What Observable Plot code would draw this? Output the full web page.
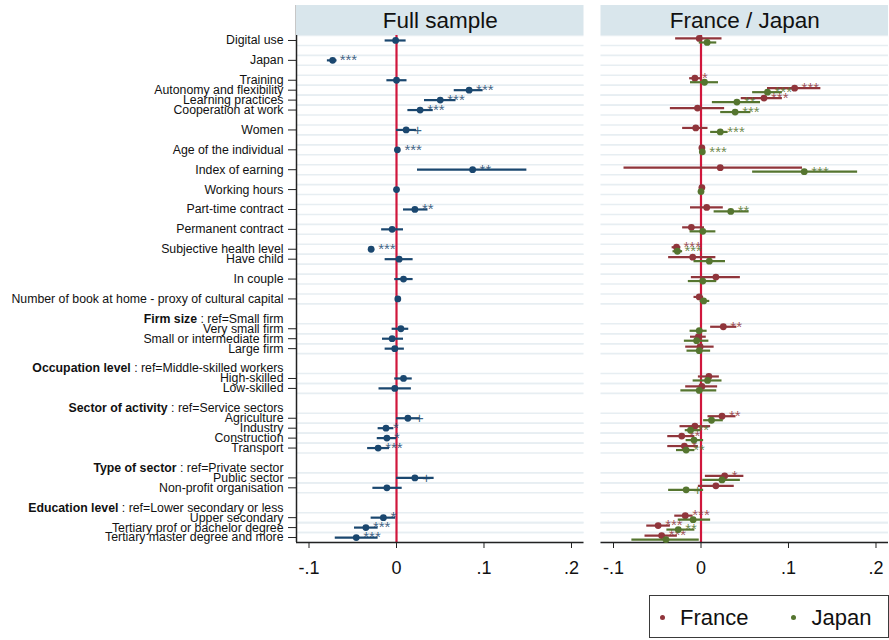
<!DOCTYPE html>
<html><head><meta charset="utf-8">
<script src="https://cdn.jsdelivr.net/npm/d3@7"></script>
<script src="https://cdn.jsdelivr.net/npm/@observablehq/plot@0.6"></script>
<style>
html,body{margin:0;padding:0;background:#fff;}
body{font-family:"Liberation Sans",Arial,sans-serif;}
#wrap{position:relative;width:889px;height:640px;overflow:hidden;}
#legend{position:absolute;left:649px;top:595px;width:240px;height:43px;border:1px solid #3a3a3a;box-sizing:border-box;display:flex;align-items:center;font-size:22px;color:#111;padding-top:2px;}
#legend .item{display:flex;align-items:center;}
#legend .sw{width:5px;height:5px;border-radius:50%;display:inline-block;margin-right:15px;}
</style></head>
<body><div id="wrap"><div id="chart"></div><div id="legend"></div></div>
<script>
// ---------- data ----------
const panels = ["Full sample", "France / Japan"];
const seriesNames = ["France", "Japan"];

const coefNames = ["Digital use","Japan","Training","Autonomy and flexibility","Learning practices","Cooperation at work","Women","Age of the individual","Index of earning","Working hours","Part-time contract","Permanent contract","Subjective health level","Have child","In couple","Number of book at home - proxy of cultural capital","Very small firm","Small or intermediate firm","Large firm","High-skilled","Low-skilled","Agriculture","Industry","Construction","Transport","Public sector","Non-profit organisation","Upper secondary","Tertiary prof or bachelor degree","Tertiary master degree and more"];

const headerNames = ["Firm size","Occupation level","Sector of activity","Type of sector","Education level"];
const headerRefs = ["ref=Small firm","ref=Middle-skilled workers","ref=Service sectors","ref=Private sector","ref=Lower secondary or less"];

// vertical order of rows (null = empty row)
const rowOrder = ["Digital use",null,"Japan",null,"Training","Autonomy and flexibility","Learning practices","Cooperation at work",null,"Women",null,"Age of the individual",null,"Index of earning",null,"Working hours",null,"Part-time contract",null,"Permanent contract",null,"Subjective health level","Have child",null,"In couple",null,"Number of book at home - proxy of cultural capital",null,"Firm size","Very small firm","Small or intermediate firm","Large firm",null,"Occupation level","High-skilled","Low-skilled",null,"Sector of activity","Agriculture","Industry","Construction","Transport",null,"Type of sector","Public sector","Non-profit organisation",null,"Education level","Upper secondary","Tertiary prof or bachelor degree","Tertiary master degree and more"];

// Full sample
const fullEst = [-0.001,-0.073,0.000,0.083,0.050,0.027,0.011,0.001,0.087,0.000,0.021,-0.005,-0.029,0.003,0.008,0.0015,0.005,-0.005,-0.002,0.008,-0.002,0.013,-0.012,-0.011,-0.021,0.021,-0.011,-0.015,-0.035,-0.046];
const fullLo  = [-0.013,-0.079,-0.011,0.066,0.032,0.013,0.000,0.000,0.024,-0.0005,0.008,-0.017,-0.032,-0.013,-0.002,-0.001,-0.005,-0.016,-0.013,-0.002,-0.020,0.000,-0.021,-0.022,-0.033,0.000,-0.027,-0.029,-0.048,-0.070];
const fullHi  = [0.011,-0.068,0.012,0.099,0.068,0.042,0.023,0.0015,0.149,0.0005,0.036,0.008,-0.025,0.019,0.019,0.004,0.014,0.008,0.009,0.018,0.017,0.027,-0.003,0.000,-0.008,0.043,0.0065,-0.001,-0.021,-0.021];
const fullSig = ["","***","","***","***","***","+","***","**","","**","","***","","","","","","","","","+","*","*","***","+","","*","***","***"];

// France
const frEst = [-0.002,null,-0.007,0.107,0.072,-0.004,-0.006,0.001,0.022,0.001,0.0065,-0.011,-0.028,-0.0095,0.017,-0.002,0.0255,-0.003,-0.001,0.009,0.001,0.024,-0.007,-0.022,-0.019,0.027,0.017,-0.018,-0.049,-0.045];
const frLo  = [-0.029,null,-0.013,0.076,0.046,-0.035,-0.021,0.000,-0.088,0.000,-0.012,-0.021,-0.033,-0.037,-0.011,-0.008,0.011,-0.012,-0.0175,-0.003,-0.0175,0.008,-0.024,-0.038,-0.038,0.005,-0.003,-0.030,-0.062,-0.064];
const frHi  = [0.024,null,0.000,0.137,0.093,0.027,0.008,0.002,0.116,0.002,0.0255,0.004,-0.023,0.017,0.045,0.003,0.041,0.006,0.015,0.021,0.019,0.040,0.011,-0.007,-0.003,0.049,0.038,-0.009,-0.035,-0.027];
const frSig = ["",null,"*","***","***","","","","","","","","***","","","","**","","","","","**","","**","*","*","","***","***","***"];

// Japan
const jpEst = [0.007,null,0.004,0.076,0.041,0.039,0.022,0.0015,0.118,0.000,0.034,0.002,-0.027,0.0095,0.002,0.003,-0.002,-0.005,-0.002,0.0075,-0.002,0.012,-0.012,-0.008,-0.017,0.024,-0.017,-0.009,-0.026,-0.040];
const jpLo  = [-0.002,null,-0.012,0.059,0.013,0.0225,0.011,0.0005,0.059,-0.001,0.015,-0.0125,-0.032,-0.008,-0.0145,-0.001,-0.0125,-0.019,-0.016,-0.009,-0.023,0.003,-0.018,-0.017,-0.028,0.002,-0.037,-0.026,-0.039,-0.079];
const jpHi  = [0.018,null,0.020,0.093,0.068,0.057,0.031,0.0025,0.179,0.001,0.055,0.017,-0.021,0.028,0.018,0.010,0.007,0.009,0.011,0.024,0.018,0.0255,0.000,0.003,-0.007,0.045,0.003,0.011,-0.007,-0.002];
const jpSig = ["",null,"","***","**","***","***","***","***","","**","","***","","","","","","","","","","**","","**","","+","","**",""];

const xTicks = [-0.1, 0, 0.1, 0.2];
const xTickLabels = ["-.1", "0", ".1", ".2"];

// ---------- styles ----------
const navy = "#1a476f", maroon = "#90353b", green = "#55752f";
const zeroRed = "#d0173c", gridCol = "#e7eef2", stripFill = "#d9e6ec", axisCol = "#222";
const fontFam = "'Liberation Sans', Arial, Helvetica, sans-serif";

// ---------- build tables ----------
const rowIds = rowOrder.map((d, i) => d ?? `gap${i}`);
function build(panel, est, lo, hi, sig) {
  return coefNames.map((id, i) => ({panel, id, est: est[i], lo: lo[i], hi: hi[i], sig: sig[i]}))
    .filter(d => d.est != null);
}
const fullRows = build(panels[0], fullEst, fullLo, fullHi, fullSig);
const frRows = build(panels[1], frEst, frLo, frHi, frSig);
const jpRows = build(panels[1], jpEst, jpLo, jpHi, jpSig);
const gridRows = panels.flatMap(p => coefNames.map(id => ({panel: p, id})));

const W = 889, H = 590, mTop = 5, mBottom = 48, mLeft = 296, mRight = 1;
const stripH = 30;
const frameH = H - mTop - mBottom;
const step = (frameH - stripH) / rowIds.length;
const xDom = [-0.1143, 0.2143];
const off = 2;

function seriesMarks(rows, color, dy) {
  return [
    Plot.ruleY(rows, {fx: "panel", y: "id", x1: "lo", x2: "hi", stroke: color, strokeWidth: 2.2, dy}),
    Plot.dot(rows, {fx: "panel", y: "id", x: "est", r: 3.4, fill: color, stroke: "none", dy}),
    Plot.text(rows.filter(d => d.sig), {fx: "panel", y: "id", x: "est", text: "sig", dx: 7, dy, textAnchor: "start", lineAnchor: "middle", fill: color, fontSize: 15, fillOpacity: 0.85})
  ];
}

const chart = Plot.plot({
  width: W, height: H,
  marginLeft: mLeft, marginRight: mRight, marginTop: mTop, marginBottom: mBottom,
  style: {fontFamily: fontFam, fontSize: "12px", background: "white", color: "#111"},
  fx: {domain: panels, paddingInner: 17 / 304.5, paddingOuter: 0, axis: null, round: false},
  x: {domain: xDom, axis: null},
  y: {type: "point", domain: rowIds, padding: 0.5, insetTop: stripH, axis: null, round: false},
  marks: [
    Plot.ruleY(gridRows, {fx: "panel", y: "id", dy: -step / 2, stroke: gridCol, strokeWidth: 1.6}),
    Plot.ruleY(gridRows, {fx: "panel", y: "id", dy: step / 2, stroke: gridCol, strokeWidth: 1.6}),
    Plot.ruleX([0], {stroke: zeroRed, strokeWidth: 2.2}),
    Plot.ruleX([panels[0]], {fx: d => d, x: () => xDom[0], stroke: axisCol, strokeWidth: 1.5}),
    Plot.ruleY([rowIds[rowIds.length - 1]], {dy: step / 2, stroke: axisCol, strokeWidth: 1.5}),
    Plot.rect(panels, {fx: d => d, x1: () => xDom[0], x2: () => xDom[1], fill: stripFill, insetBottom: frameH - stripH}),
    Plot.text(panels, {fx: d => d, text: d => d, frameAnchor: "top", lineAnchor: "middle", dy: stripH / 2, fontSize: 22.5, fill: "#111"}),
    Plot.axisX({ticks: xTicks, tickFormat: d => xTickLabels[xTicks.indexOf(d)], tickSize: 6, tickPadding: 13, fontSize: 18, stroke: axisCol, label: null}),
    Plot.axisY(coefNames, {tickFormat: d => d, tickSize: 8, tickPadding: 5, fontSize: 12.3, stroke: axisCol, label: null}),
    Plot.text(headerNames, {fx: () => panels[0], y: d => d, text: (d, i) => d + " : " + headerRefs[i], frameAnchor: "left", lineAnchor: "middle", dx: -13, textAnchor: "end", fontSize: 12.3, fill: "#111"}),
    ...seriesMarks(fullRows, navy, 0),
    ...seriesMarks(frRows, maroon, -off),
    ...seriesMarks(jpRows, green, off)
  ]
});

document.getElementById("chart").appendChild(chart);

// bold group names in headers
d3.select(chart).selectAll("text").filter(function () { return this.textContent.includes(" : ref="); })
  .each(function () {
    const t = d3.select(this);
    const [a, b] = this.textContent.split(" : ");
    t.text(null);
    t.append("tspan").attr("font-weight", "bold").text(a);
    t.append("tspan").text(" : " + b);
  });

// legend
const legend = d3.select("#legend");
[maroon, green].forEach((c, i) => {
  const it = legend.append("div").attr("class", "item").style("margin-left", i === 0 ? "10px" : "43px");
  it.append("span").attr("class", "sw").style("background", c);
  it.append("span").text(seriesNames[i]);
});
</script>
</body></html>
